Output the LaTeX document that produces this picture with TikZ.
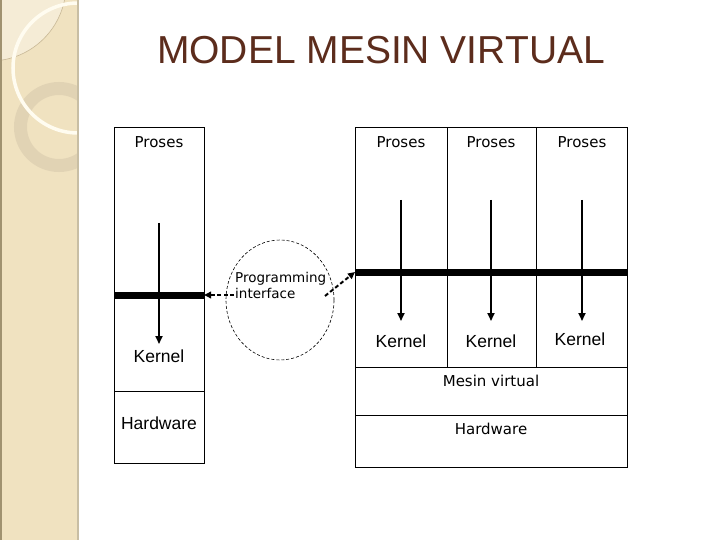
\documentclass[tikz,border=0pt]{standalone}
\usepackage{fontspec}
\setmainfont{DejaVu Sans}
\newfontfamily\arialf{Liberation Sans}
\usetikzlibrary{arrows.meta,shapes.geometric}
\definecolor{strip}{RGB}{240,226,192}
\definecolor{stripLight}{RGB}{245,236,214}
\definecolor{stripEdge}{RGB}{200,184,150}
\definecolor{ringc}{RGB}{222,208,178}
\definecolor{arcc}{RGB}{255,252,240}
\definecolor{edgeL}{RGB}{160,146,112}
\definecolor{edgeR}{RGB}{200,190,164}
\definecolor{titlec}{RGB}{92,44,28}
\begin{document}
\begin{tikzpicture}[x=1pt,y=-1pt,
  box/.style={draw,line width=1pt,inner sep=0pt,outer sep=0pt},
  thin/.style={line width=1pt},
  bar/.style={line width=7pt},
  arr/.style={line width=1.8pt,-{Triangle[length=8pt,width=7pt]}},
  darr/.style={line width=2pt,dash pattern=on 4pt off 2.5pt,-{Triangle[length=7pt,width=6.5pt]}},
  lbl/.style={inner sep=0pt,font=\fontsize{15}{18}\selectfont},
  albl/.style={inner sep=0pt,font=\arialf\fontsize{17.5}{20}\selectfont}]
\useasboundingbox (0,0) rectangle (720,540);
\fill[white] (0,0) rectangle (720,540);
% decorative strip
\begin{scope}
  \clip (0,0) rectangle (78,540);
  \fill[strip] (0,0) rectangle (78,540);
  \fill[stripLight] (-10,-15) circle (76);
  \draw[stripEdge,line width=0.6pt] (-10,-15) circle (76);
  \draw[ringc,line width=13pt,opacity=0.8] (59,127) circle (38.5);
  \draw[arcc,line width=3.5pt] (78,68) circle (65);
\end{scope}
\draw[edgeL,line width=1.5pt] (0.75,0) -- (0.75,540);
\draw[edgeR,line width=2pt] (78,0) -- (78,540);
% title
\node[inner sep=0pt,text=titlec,font=\arialf\fontsize{39}{42}\selectfont] (title) at (381,50) {MODEL MESIN VIRTUAL};
% left machine
\node[box,minimum width=90,minimum height=335] (lbox) at (159,295.5) {};
\draw[thin] (lbox.west |- 0,391) -- (lbox.east |- 0,391);
\coordinate (lbarW) at (lbox.west |- 0,295);
\coordinate (lbarE) at (lbox.east |- 0,295);
\draw[bar] (lbarW) -- (lbarE);
\node[lbl] (lpro) at (159,142) {Proses};
\coordinate (la1) at (159,223);
\coordinate (la2) at (159,344);
\draw[arr] (la1) -- (la2);
\node[albl] (lker) at (159,356) {Kernel};
\node[albl] (lhw) at (159,423) {Hardware};
% right machine
\node[box,minimum width=272,minimum height=339] (rbox) at (491,297.5) {};
\draw[thin] (447,128) -- (447,367);
\draw[thin] (536,128) -- (536,367);
\draw[thin] (rbox.west |- 0,367) -- (rbox.east |- 0,367);
\draw[thin] (rbox.west |- 0,415) -- (rbox.east |- 0,415);
\coordinate (rbarW) at (rbox.west |- 0,272);
\coordinate (rbarE) at (rbox.east |- 0,272);
\draw[bar] (rbarW) -- (rbarE);
\node[lbl] (rp1) at (401,142) {Proses};
\node[lbl] (rp2) at (491,142) {Proses};
\node[lbl] (rp3) at (582,142) {Proses};
\coordinate (ra1s) at (401,200); \coordinate (ra1e) at (401,321);
\coordinate (ra2s) at (491,200); \coordinate (ra2e) at (491,321);
\coordinate (ra3s) at (582,200); \coordinate (ra3e) at (582,321);
\draw[arr] (ra1s) -- (ra1e);
\draw[arr] (ra2s) -- (ra2e);
\draw[arr] (ra3s) -- (ra3e);
\node[albl] (rk1) at (401,341) {Kernel};
\node[albl] (rk2) at (491,341) {Kernel};
\node[albl] (rk3) at (580,339) {Kernel};
\node[lbl] (mv) at (491,381) {Mesin virtual};
\node[lbl] (rhw) at (491,429) {Hardware};
% programming interface
\node[draw,ellipse,line width=0.6pt,dash pattern=on 3pt off 2pt,minimum width=108,minimum height=120,inner sep=0pt] (pi) at (280,300) {};
\node[inner sep=0pt,anchor=west,align=left,font=\fontsize{13.5}{16}\selectfont] (pit) at (235,285) {Programming\\interface};
\coordinate (pl) at (234,295);
\coordinate (pr) at (325,296);
\draw[darr] (pl) -- (lbarE);
\draw[darr] (pr) -- (rbarW);
\end{tikzpicture}
\end{document}
